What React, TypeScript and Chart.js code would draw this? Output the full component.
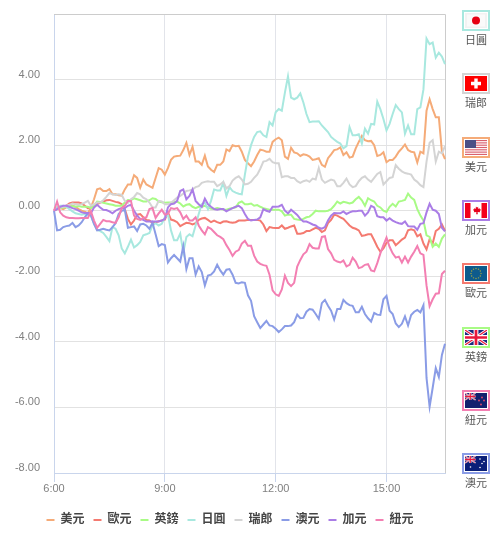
import React, { useEffect, useRef } from "react";
import { Chart, registerables } from "chart.js";

Chart.register(...registerables);

const START_MINUTE = 360;
const STEP_MINUTE = 5;
const POINT_COUNT = 128;
const categories: string[] = [];
for (let i = 0; i < POINT_COUNT; i++) {
  const m = START_MINUTE + i * STEP_MINUTE;
  categories.push(`${Math.floor(m / 60)}:${String(m % 60).padStart(2, "0")}`);
}
const xTickLabels = ["6:00", "9:00", "12:00", "15:00"];

const usd = [0,.05,.08,.05,.1,.15,.15,.12,.05,0,-.03,-.08,.1,.35,.65,.68,.6,.6,.66,.5,.5,.47,.46,.65,.8,.8,1.08,1,.7,.95,.8,.75,.7,1,1.3,1.25,1.1,1.3,1.55,1.65,1.67,1.68,1.85,2.07,1.7,1.95,1.5,1.5,1.4,1.68,1.35,1.25,1.18,1.4,1.4,1.5,1.87,1.82,2,1.97,1.98,1.8,1.55,1.45,1.36,1.5,1.7,1.86,1.84,1.8,1.8,2.1,2.18,2.23,2.15,1.65,1.58,1.92,1.78,1.75,1.67,1.72,1.7,1.65,1.55,1.57,1.6,1.4,1.34,1.6,1.72,1.85,1.87,1.93,1.7,1.78,1.62,1.65,1.9,2.1,2.28,2.15,2.12,2.13,2,1.67,1.7,1.78,1.48,1.55,1.55,1.65,1.8,1.9,2.02,1.85,1.8,1.78,1.47,1.8,1.75,3.05,3.4,3.1,2.85,2.85,1.8,1.57];
const eur = [0,.05,.1,.12,.15,.22,.25,.25,.25,.22,.15,.08,.1,.12,.2,.25,.28,.32,.33,.3,.27,.25,.2,.05,-.25,-.42,-.3,-.12,-.1,-.2,-.28,-.3,-.37,-.35,-.32,-.3,-.27,-.05,-.27,-.3,-.35,-.47,-.42,-.37,-.38,-.42,-.38,-.28,-.24,-.22,-.28,-.35,-.3,-.35,-.38,-.33,-.32,-.35,-.37,-.35,-.3,-.3,-.3,-.28,-.28,-.28,-.28,-.3,-.42,-.62,-.5,-.52,-.53,-.53,-.45,-.55,-.52,-.48,-.45,-.7,-.7,-.68,-.62,-.62,-.57,-.52,-.55,-.65,-.6,-.38,-.28,-.12,-.15,-.2,-.25,-.35,-.45,-.52,-.55,-.6,-.77,-.75,-.72,-.72,-.9,-1.1,-1.25,-1.15,-.98,-.9,-.9,-1.05,-.97,-.88,-.82,-.6,-.57,-.6,-.78,-.72,-1,-1.18,-.87,-1,-.62,-.55,-.42,-.62];
const gbp = [.08,.1,.08,.1,.12,.12,.14,.12,.14,.12,.12,.12,.08,.15,.28,.27,.24,.22,.2,.18,.15,.15,.15,.25,.33,.33,.38,.35,.32,.28,.28,.32,.38,.36,.28,.26,.24,.25,.25,.26,.28,.22,.13,.18,.2,.12,.08,.12,.12,.15,.1,.06,.05,.08,.06,.04,.03,.06,.08,.1,.24,.28,.2,.2,.22,.15,.17,.12,.08,.05,.03,.03,.03,.03,-.02,-.15,-.12,-.12,-.25,-.27,-.28,-.25,-.2,-.18,-.1,0,-.02,-.02,-.02,0,.05,.15,.28,.22,.27,.25,.22,.25,.35,.42,.32,.15,.38,.32,.28,.15,.1,0,-.04,.12,.21,.13,.28,.3,.33,.52,.4,.33,.05,-.15,-.3,-.75,-.8,-1.1,-1,-1.1,-.85,-.72];
const jpy = [0,.1,.15,.15,.12,.05,-.02,-.08,-.1,-.12,-.1,-.12,-.15,-.4,-.58,-.62,-.68,-.8,-.93,-.5,-.55,-.75,-1.15,-1.3,-1.1,-.88,-1.12,-1.05,-.95,-.75,-.72,-.68,-.45,-.38,-.45,-.4,-.2,-.1,-.6,-.9,-.9,-.7,-1.27,-.8,-.72,-.78,-.45,-.1,.2,.25,.05,.3,.65,.62,.62,.85,.45,.72,.6,.55,.52,.5,1.1,1.65,2,2.25,2.4,2.42,2.3,2.25,2.7,2.6,3,3.1,3.05,3.6,4.1,3.45,3.4,3.45,3.58,3.3,2.95,2.7,2.72,2.72,2.73,2.6,2.5,2.4,2.25,2.17,2.1,2.05,1.9,1.97,2.55,2.3,2.3,2.33,2.05,2.5,2.35,2.65,2.63,3.33,3.1,2.8,2.45,2.65,2.95,3.22,3.1,3,2.35,2.6,2.33,2.33,3.1,3.15,3.7,5.25,5.08,5.13,4.67,4.82,4.7,4.47];
const chf = [.02,.05,.1,.12,.15,.18,.22,.2,.18,.2,.25,.3,.15,.2,.25,.25,.32,.42,.54,.5,.48,.5,.48,.3,.24,.35,.42,.54,.5,.4,.35,.25,.1,.1,.3,.28,.2,.2,.24,.32,.4,.45,.52,.6,.62,.65,.72,.75,.85,.88,.9,.88,.88,.75,.8,.88,.68,.75,.92,1,1.05,.95,.8,.82,.88,1,1.1,1.28,1.5,1.52,1.58,1.48,1.45,1.45,1.02,1.05,1.05,1,1,.9,.85,.9,.93,.88,.98,.95,1.3,.95,.85,.9,.95,.92,.75,.75,.85,.98,.8,.72,.75,.9,1,1.05,.95,.88,1,1.12,1.18,.8,.9,1,1.02,1.39,1.28,1.2,1.15,1.13,1.1,.95,.88,.78,.72,1.5,2.07,2.15,1.5,1.8,1.75,1.97];
const aud = [0,-.6,-.58,-.5,-.47,-.45,-.37,-.5,-.45,-.35,-.2,-.08,-.15,-.4,-.6,-.58,-.55,-.58,-.6,-.5,-.38,-.1,0,.03,-.52,-.5,-.48,-.62,-.42,-.4,-.45,-.55,-.37,-.72,-1.08,-1.02,-1.05,-1.58,-1.45,-1.35,-1.45,-1.55,-1.08,-1.78,-1.45,-1.45,-1.95,-1.7,-1.87,-2.28,-1.98,-1.95,-1.85,-1.65,-1.82,-1.95,-1.8,-1.78,-1.95,-2.2,-2.22,-2.18,-2.2,-2.58,-2.75,-3.22,-3.4,-3.58,-3.47,-3.36,-3.5,-3.52,-3.6,-3.7,-3.62,-3.52,-3.52,-3.5,-3.4,-3.17,-3.28,-3.27,-3.08,-3,-3.02,-3.15,-3.3,-2.82,-2.72,-2.9,-3.05,-3.32,-3,-3,-2.72,-2.82,-2.88,-2.9,-3.1,-3.1,-2.93,-3.15,-3.28,-3.38,-3.12,-3.17,-3.18,-2.7,-2.6,-3.05,-3.15,-3.44,-3.55,-3.45,-3.22,-3.5,-3.18,-3.08,-3.03,-3.1,-2.88,-5.1,-5.98,-5.4,-4.8,-5.07,-4.4,-4.06];
const cad = [0,.05,.12,.15,.15,.12,.08,.05,0,-.05,-.07,-.07,-.07,.1,.18,.1,.03,.02,-.02,-.08,0,.05,.08,.08,.15,.18,0,-.15,-.25,-.28,-.33,-.33,-.33,-.33,-.33,-.3,-.25,.1,.2,.22,.3,.6,.65,.35,.45,.65,.3,.2,.12,.37,.2,.12,.05,.03,.05,.05,-.02,.03,.08,.12,.15,.08,-.1,-.25,-.3,-.28,-.27,-.2,.05,0,-.03,.12,.12,.13,.18,0,-.08,.03,-.05,-.13,-.25,-.33,-.33,-.37,-.42,-.45,-.52,-.55,-.5,-.3,-.15,-.07,-.08,-.08,-.02,-.1,-.05,-.02,-.02,0,0,-.15,-.05,.15,.1,-.17,-.2,-.2,-.3,-.23,-.3,-.35,-.38,-.4,-.33,-.47,-.48,-.48,-.58,-.4,-.38,-.05,.21,.03,0,-.1,-.52,-.63];
const nzd = [0,.28,-.05,-.15,-.2,-.22,-.22,-.23,-.23,-.22,-.22,-.22,-.02,-.3,-.52,-.4,-.28,-.32,-.32,-.35,-.37,-.2,.08,.15,.3,.3,-.15,-.25,-.28,-.22,-.2,.05,.08,-.22,-.08,.03,-.12,-.1,.08,.05,.08,-.05,-.25,-.15,-.3,-.3,-.2,-.45,-.6,-.72,-.5,-.55,-.65,-.75,-.8,-.87,-1.05,-1.2,-1.38,-1.25,-1.2,-1,-.92,-1.07,-1.07,-1.37,-1.55,-1.62,-1.66,-1.68,-1.95,-2.43,-2.55,-2.6,-2.4,-1.98,-2.2,-2.3,-2.2,-1.7,-1.5,-1.33,-1.25,-1.02,-1.13,-1.15,-1.15,-.8,-.78,-1.17,-1.3,-1.5,-1.55,-1.58,-1.52,-1.7,-1.65,-1.43,-1.55,-1.75,-1.72,-1.65,-1.63,-1.82,-1.85,-1.6,-1.3,-1.05,-.82,-1.1,-1.3,-1.43,-1.4,-1.58,-1.4,-1.58,-1.4,-1.25,-1.08,-1.3,-1.35,-2.28,-2.91,-2.7,-2.53,-2.52,-1.93,-1.83];

const seriesNames = ["美元", "歐元", "英鎊", "日圓", "瑞郎", "澳元", "加元", "紐元"];
const seriesValues = [usd, eur, gbp, jpy, chf, aud, cad, nzd];
const seriesColors = ["#f5ab78", "#f47a70", "#a8fb85", "#a8e8df", "#d4d4d4", "#8a9ce6", "#aa7de6", "#f37fb2"];

const CJK = '"Liberation Sans", "Noto Sans CJK TC", sans-serif';

const UnionJack = ({ w, h }: { w: number; h: number }) => (
  <g>
    <rect width={w} height={h} fill="#1a2a80" />
    <path d={`M0 0L${w} ${h}M${w} 0L0 ${h}`} stroke="#fff" strokeWidth={h * 0.2} />
    <path d={`M0 0L${w} ${h}M${w} 0L0 ${h}`} stroke="#e8183c" strokeWidth={h * 0.08} />
    <path d={`M${w / 2} 0V${h}M0 ${h / 2}H${w}`} stroke="#fff" strokeWidth={h * 0.32} />
    <path d={`M${w / 2} 0V${h}M0 ${h / 2}H${w}`} stroke="#e8183c" strokeWidth={h * 0.18} />
  </g>
);

const Flag = ({ code }: { code: string }) => {
  const w = 22;
  const h = 15;
  if (code === "jp")
    return (
      <svg width={w} height={h}>
        <rect width={w} height={h} fill="#f2f2f2" />
        <rect x={2} y={1.5} width={18} height={12} fill="#fafafa" />
        <circle cx={11} cy={7.5} r={4} fill="#e60012" />
      </svg>
    );
  if (code === "ch")
    return (
      <svg width={w} height={h}>
        <rect width={w} height={h} fill="#ff0000" />
        <path d="M9.3 2.5h3.4v3.3H16v3.4h-3.3v3.3H9.3V9.2H6V5.8h3.3z" fill="#fff" />
      </svg>
    );
  if (code === "us")
    return (
      <svg width={w} height={h}>
        <rect width={w} height={h} fill="#fff" />
        {[0, 1, 2, 3, 4, 5, 6].map((i) => (
          <rect key={i} y={i * 2.31} width={w} height={1.15} fill="#d9606e" />
        ))}
        <rect width={11} height={8} fill="#4a4f86" />
      </svg>
    );
  if (code === "ca")
    return (
      <svg width={w} height={h}>
        <rect width={w} height={h} fill="#fff" />
        <rect width={5.5} height={h} fill="#f4001c" />
        <rect x={16.5} width={5.5} height={h} fill="#f4001c" />
        <path d="M11 2.5l1.1 1.9 1.2-.6-.4 2.3 1.5-1 .4 1.1 1.2.2-1.2 2 .4.8-2.6-.2.2 2.2h-1.6l.2-2.2-2.6.2.4-.8-1.2-2 1.2-.2.4-1.1 1.5 1-.4-2.3 1.2.6z" fill="#e8001c" />
      </svg>
    );
  if (code === "eu")
    return (
      <svg width={w} height={h}>
        <rect width={w} height={h} fill="#0d5a8c" />
        {[0, 30, 60, 90, 120, 150, 180, 210, 240, 270, 300, 330].map((a) => (
          <circle
            key={a}
            cx={11 + 5 * Math.cos((a * Math.PI) / 180)}
            cy={7.5 + 5 * Math.sin((a * Math.PI) / 180)}
            r={0.7}
            fill="#a8a83c"
          />
        ))}
      </svg>
    );
  if (code === "gb")
    return (
      <svg width={w} height={h}>
        <UnionJack w={w} h={h} />
      </svg>
    );
  const starsNz = [[17, 4.5], [14, 7.5], [19, 7.5], [16, 11.5]];
  const starsAu = [[5.5, 11], [15, 3], [19, 5.5], [17, 7.5], [15, 11.5]];
  const stars = code === "nz" ? starsNz : starsAu;
  return (
    <svg width={w} height={h}>
      <rect width={w} height={h} fill={code === "nz" ? "#12206e" : "#0a1f78"} />
      <UnionJack w={10.5} h={7} />
      {stars.map(([x, y], i) => (
        <circle key={i} cx={x} cy={y} r={code === "nz" ? 0.9 : 0.8} fill={code === "nz" ? "#e8486a" : "#fff"} />
      ))}
    </svg>
  );
};

const flagItems = [
  { name: "日圓", code: "jp", color: seriesColors[3] },
  { name: "瑞郎", code: "ch", color: seriesColors[4] },
  { name: "美元", code: "us", color: seriesColors[0] },
  { name: "加元", code: "ca", color: seriesColors[6] },
  { name: "歐元", code: "eu", color: seriesColors[1] },
  { name: "英鎊", code: "gb", color: seriesColors[2] },
  { name: "紐元", code: "nz", color: seriesColors[7] },
  { name: "澳元", code: "au", color: seriesColors[5] },
];

const framePlugin = {
  id: "frame",
  afterLayout(chart: any) {
    if (chart.legend) chart.legend.right = 460;
  },
  beforeDatasetsDraw(chart: any) {
    const { ctx, chartArea: a } = chart;
    ctx.save();
    ctx.strokeStyle = "#cccccc";
    ctx.lineWidth = 1;
    ctx.beginPath();
    ctx.moveTo(a.left, a.top + 0.5);
    ctx.lineTo(a.right + 0.5, a.top + 0.5);
    ctx.lineTo(a.right + 0.5, a.bottom);
    ctx.stroke();
    ctx.restore();
  },
};

export default function App() {
  const ref = useRef<HTMLCanvasElement>(null);
  useEffect(() => {
    if (!ref.current) return;
    const chart = new Chart(ref.current, {
      type: "line",
      plugins: [framePlugin],
      data: {
        labels: categories,
        datasets: seriesNames.map((name, i) => ({
          label: name,
          data: seriesValues[i],
          borderColor: seriesColors[i],
          backgroundColor: seriesColors[i],
          borderWidth: 2,
          pointRadius: 0,
          tension: 0,
          order: -i,
        })),
      },
      options: {
        animation: false,
        responsive: false,
        layout: { padding: { top: 14, right: 55, left: 0, bottom: 10 } },
        scales: {
          x: {
            afterFit(s: any) {
              s.height = 32;
              s.paddingLeft = 0;
              s.paddingRight = 0;
            },
            border: { color: "#c9d5ec", width: 1 },
            grid: { color: "#e2e4ea", lineWidth: 1, tickLength: 9, tickColor: "#c9d5ec" },
            ticks: {
              autoSkip: false,
              maxRotation: 0,
              minRotation: 0,
              padding: 0,
              color: "#808080",
              font: { family: CJK, size: 11 },
              callback(this: any, _v: any, index: number) {
                const label = categories[index];
                return xTickLabels.includes(label) ? label : null;
              },
            },
          },
          y: {
            min: -8,
            max: 6,
            afterFit(s: any) {
              s.width = 54;
              s.paddingTop = 0;
              s.paddingBottom = 0;
            },
            border: { color: "#c9d5ec", width: 1 },
            grid: { color: "#e2e2e2", lineWidth: 1, tickLength: 0 },
            ticks: {
              stepSize: 2,
              padding: 14,
              labelOffset: -5,
              color: "#808080",
              font: { family: CJK, size: 11 },
              callback(v: any) {
                return v === 6 ? "" : Number(v).toFixed(2);
              },
            },
          },
        },
        plugins: {
          tooltip: { enabled: false },
          legend: {
            position: "bottom",
            labels: {
              boxWidth: 8,
              boxHeight: 2,
              padding: 9,
              color: "#444444",
              font: { family: CJK, size: 12, weight: "bold" },
              generateLabels: (c: any) =>
                (Chart.defaults.plugins.legend.labels as any).generateLabels(c).map((l: any) => ({ ...l, lineWidth: 0 })),
              sort: (a: any, b: any) => a.datasetIndex - b.datasetIndex,
            },
          },
        },
      },
    } as any);
    return () => chart.destroy();
  }, []);
  return (
    <div style={{ position: "absolute", left: 0, top: 0, width: 500, height: 546, background: "#fff" }}>
      <canvas ref={ref} width={500} height={546} style={{ display: "block" }} />
      {flagItems.map((f, i) => (
        <div
          key={f.code}
          style={{ position: "absolute", left: 452, width: 48, top: 10 + i * 63.33, textAlign: "center", fontFamily: CJK, fontSize: 11, color: "#555", lineHeight: "13px" }}
        >
          <div
            style={{
              margin: "0 auto",
              width: 28,
              height: 21,
              boxSizing: "border-box",
              border: `2px solid ${f.color}`,
              lineHeight: 0,
              overflow: "hidden",
              display: "flex",
              alignItems: "center",
              justifyContent: "center",
              background: "#fff",
            }}
          >
            <Flag code={f.code} />
          </div>
          <div style={{ marginTop: 3 }}>{f.name}</div>
        </div>
      ))}
    </div>
  );
}
